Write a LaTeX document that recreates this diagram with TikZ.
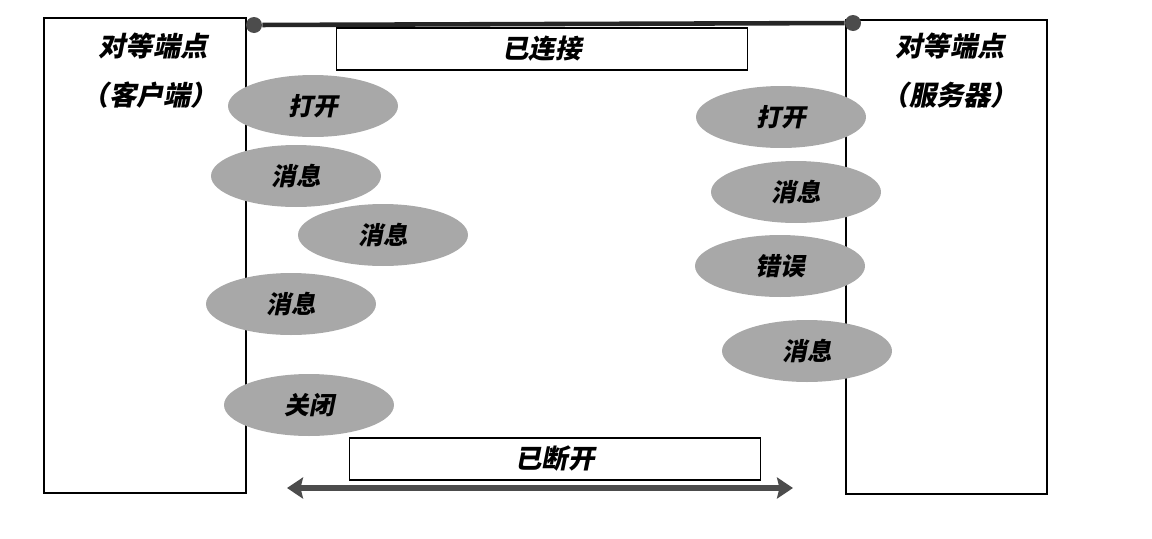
\documentclass[tikz,border=0pt]{standalone}
\usepackage{fontspec}
\newfontfamily\cjk[FakeSlant=0.2,BoldFeatures={FakeSlant=0.2}]{Noto Sans CJK SC}
\usetikzlibrary{shapes.geometric,arrows.meta}

\begin{document}
\begin{tikzpicture}[x=0.02cm,y=-0.02cm,
	msg/.style={ellipse,fill=black!34,minimum width=3.4cm,minimum height=1.24cm,inner sep=0pt,font=\cjk\bfseries\fontsize{14}{16}\selectfont},
	state/.style={draw,line width=.6pt,minimum width=8.24cm,minimum height=.84cm,inner sep=0pt,font=\cjk\bfseries\fontsize{15}{18}\selectfont},
	peer/.style={font=\cjk\bfseries\fontsize{15.5}{18}\selectfont},
	dot/.style={circle,fill=black!70,minimum size=.32cm,inner sep=0pt}]
	\useasboundingbox (0,0) rectangle (1152,538);
	% the two peers
	\draw[line width=1.3pt] (44,18) rectangle (246,493);
	\draw[line width=1.3pt] (846,20) rectangle (1047,494);
	\node[peer] (cl1) at (153,46) {对等端点};
	\node[peer] (cl2) at (150,95) {（客户端）};
	\node[peer] (sv1) at (950,46) {对等端点};
	\node[peer] (sv2) at (950,95) {（服务器）};
	% connection
	\node[dot] (dl) at (254,25) {};
	\node[dot] (dr) at (853,23) {};
	\draw[line width=2.6pt,black!85] (dl) -- (dr);
	\node[state] (up) at (542,49) {已连接};
	\node[state] (down) at (555,459) {已断开};
	\coordinate (al) at (287,488);
	\coordinate (ar) at (793,488);
	\draw[{Stealth[length=.32cm,width=.42cm,inset=.05cm]}-{Stealth[length=.32cm,width=.42cm,inset=.05cm]},line width=3pt,black!70] (al) -- (ar);
	% client side
	\node[msg] (c1) at (313,106) {打开};
	\node[msg] (c2) at (296,176) {消息};
	\node[msg] (c3) at (383,235) {消息};
	\node[msg] (c4) at (291,304) {消息};
	\node[msg] (c5) at (309,405) {关闭};
	% server side
	\node[msg] (s1) at (781,117) {打开};
	\node[msg] (s2) at (796,192) {消息};
	\node[msg] (s3) at (780,266) {错误};
	\node[msg] (s4) at (807,351) {消息};
\end{tikzpicture}
\end{document}
